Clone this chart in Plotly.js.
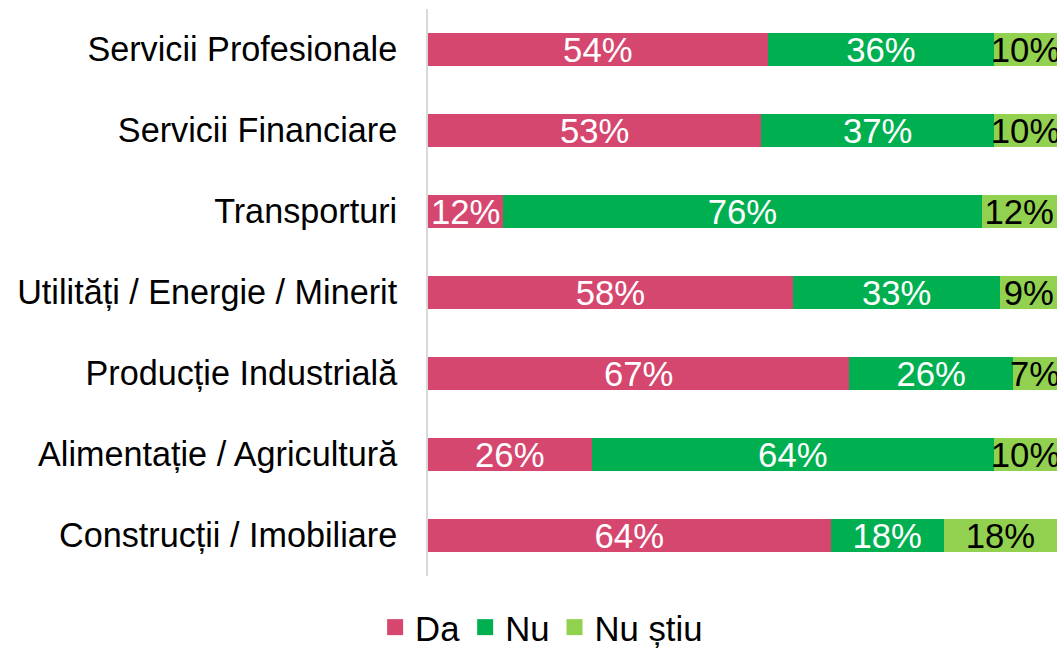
<!DOCTYPE html>
<html>
<head>
<meta charset="utf-8">
<script src="https://cdn.plot.ly/plotly-3.0.1.min.js"></script>
<style>html,body{margin:0;padding:0;background:#fff}#chart{width:1062px;height:649px}</style>
</head>
<body>
<div id="chart"></div>
<script>
const categories = ["Servicii Profesionale","Servicii Financiare","Transporturi","Utilități / Energie / Minerit","Producție Industrială","Alimentație / Agricultură","Construcții / Imobiliare"];
const da = [54,53,12,58,67,26,64];
const nu = [36,37,76,33,26,64,18];
const nuStiu = [10,10,12,9,7,10,18];
const seriesNames = ["Da","Nu","Nu știu"];
const colors = ["#D5476F","#00B050","#92D050"];
const textColors = ["#ffffff","#ffffff","#000000"];

const font = "Liberation Sans, Arial, sans-serif";
const fs = 34.7;
const bars = [da, nu, nuStiu].map((vals, i) => ({
  type: "bar",
  orientation: "h",
  name: seriesNames[i],
  legendgroup: seriesNames[i],
  showlegend: false,
  y: categories,
  x: vals,
  marker: {color: colors[i], line: {width: 0}},
  texttemplate: "%{x}%",
  textposition: "inside",
  insidetextanchor: "middle",
  constraintext: "none",
  textfont: {family: font, size: fs, color: textColors[i]},
  hoverinfo: "x+y+name"
}));
// legend entries with larger square swatches, on a separate hidden axis pair
const legendEntries = seriesNames.map((n, i) => ({
  type: "scatter", mode: "markers",
  name: n, legendgroup: n, showlegend: true,
  xaxis: "x2", yaxis: "y2",
  x: [-10], y: [-10],
  marker: {symbol: "square", size: 17, color: colors[i]},
  hoverinfo: "skip"
}));

const layout = {
  width: 1062, height: 649,
  margin: {l: 428, r: 5, t: 9, b: 73},
  barmode: "stack",
  bargap: 0.59,
  paper_bgcolor: "#fff", plot_bgcolor: "#fff",
  font: {family: font, size: fs, color: "#000"},
  xaxis: {range: [0, 100], showgrid: false, zeroline: false, showticklabels: false, showline: false, fixedrange: true},
  yaxis: {
    categoryorder: "array", categoryarray: categories, autorange: "reversed",
    showline: true, linecolor: "#d9d9d9", linewidth: 2,
    ticks: "outside", ticklen: 22, tickcolor: "rgba(0,0,0,0)",
    tickfont: {family: font, size: 34.2, color: "#000"},
    showgrid: false, zeroline: false
  },
  xaxis2: {range: [0, 1], visible: false, overlaying: "x"},
  yaxis2: {range: [0, 1], visible: false, overlaying: "y", anchor: "x2"},
  legend: {
    orientation: "h", x: 0.51, xanchor: "center", xref: "container",
    y: 0.033, yanchor: "middle", yref: "container",
    font: {family: font, size: fs, color: "#000"},
    itemwidth: 30, traceorder: "normal", itemsizing: "trace"
  },
  showlegend: true
};

Plotly.newPlot("chart", bars.concat(legendEntries), layout, {displayModeBar: false, staticPlot: true});
</script>
</body>
</html>
